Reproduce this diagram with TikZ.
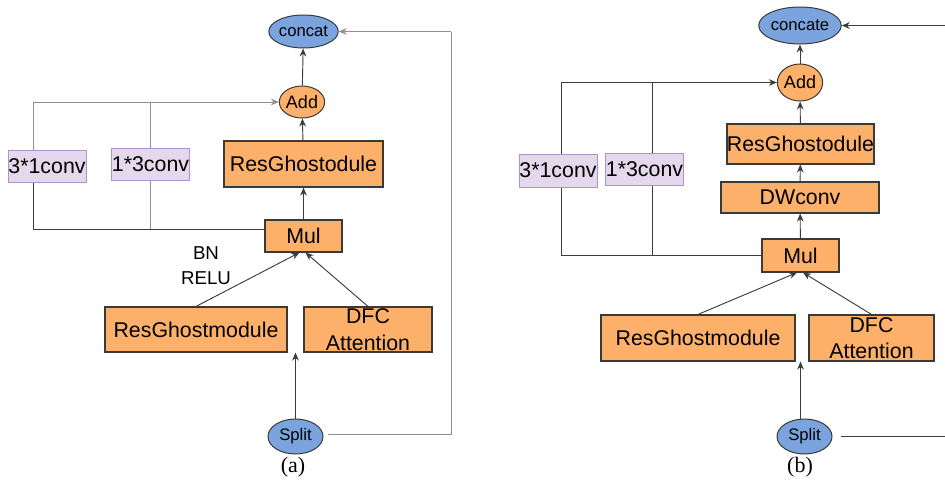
\documentclass[tikz,border=0pt]{standalone}
\usepackage{fontspec}
\setmainfont{Liberation Sans}
\newfontfamily\capfont{Liberation Serif}
\usetikzlibrary{shapes.geometric,arrows.meta,calc}
\definecolor{boxorange}{HTML}{FDB06A}
\definecolor{ellblue}{HTML}{7BA4DE}
\definecolor{lavfill}{HTML}{E4D8EC}
\definecolor{lavline}{HTML}{B093C9}
\definecolor{edgegrey}{HTML}{3A3A3A}
\definecolor{linegrey}{HTML}{3C3C3C}
\definecolor{lightline}{HTML}{8F8F8F}
\tikzset{
  wh/.style 2 args={minimum width=#1*0.75pt, minimum height=#2*0.75pt},
  obox/.style={draw=edgegrey, line width=0.85pt, fill=boxorange, inner sep=0pt,
    font=\fontsize{16}{20}\selectfont, align=center},
  lbox/.style={draw=lavline, line width=0.75pt, fill=lavfill, inner sep=0pt,
    font=\fontsize{16}{20}\selectfont},
  bell/.style={ellipse, draw=edgegrey, line width=0.75pt, fill=ellblue, inner sep=0pt,
    font=\fontsize{12.5}{14}\selectfont},
  oell/.style={ellipse, draw=edgegrey, line width=0.75pt, fill=boxorange, inner sep=0pt,
    font=\fontsize{13.5}{15}\selectfont},
  conn/.style={draw=linegrey, line width=0.7pt},
  arr/.style={conn, -{Stealth[length=6pt,width=5pt]}},
  caplab/.style={font=\capfont\fontsize{16.5}{19}\selectfont},
}
\begin{document}
\begin{tikzpicture}[x=0.75pt,y=-0.75pt]
\useasboundingbox (0,0) rectangle (945,479);
% ---------------- panel (a) ----------------
\node[bell, wh={55}{33}] (concatA) at (303.5,31.5) {concat};
\node[oell, wh={36}{32}] (addA) at (302,102) {Add};
\node[obox, wh={159}{46}] (resGA) at (303.5,164) {ResGhostodule};
\node[obox, wh={77}{32}] (mulA) at (303.5,236) {Mul};
\node[lbox, wh={78}{32}] (c31A) at (47,166) {3*1conv};
\node[lbox, wh={77}{32}] (c13A) at (150.5,164) {1*3conv};
\node[font=\fontsize{14}{18.75}\selectfont, align=center] (bnA) at (206,266) {BN\\RELU};
\node[obox, wh={182}{45}] (rgmA) at (196,329.5) {ResGhostmodule};
\node[obox, wh={128}{45}] (dfcA) at (368,329.5) {DFC\\Attention};
\node[bell, wh={55}{35}] (splitA) at (295.5,436.5) {Split};
\node[caplab] (labA) at (293,467) {(a)};
\coordinate (ra) at (451,31.5);

\draw[arr] (addA) -- (concatA);
\draw[arr] (resGA) -- (addA);
\draw[arr] (mulA) -- (resGA);
\draw[arr, draw=lightline] ($(c31A.north)+(-14,0)$) |- (addA.west);
\draw[conn, draw=lightline] (c13A.north) -- (c13A.north |- addA.west);
\draw[conn] ($(c31A.south)+(-14,0)$) |- ($(mulA.west)+(0,-7)$);
\draw[conn, draw=lightline] (c13A.south) -- (c13A.south |- {$(mulA.west)+(0,-7)$});
\draw[arr] (rgmA.north) -- ($(mulA.south)+(-4,0)$);
\draw[arr] (dfcA.north) -- ($(mulA.south)+(2,0)$);
\draw[arr] (splitA.north) -- (splitA.north |- rgmA.south);
\draw[conn, draw=lightline] ($(splitA.east)+(4,-2)$) -| (ra);
\draw[arr, draw=lightline] (ra) -- (concatA.east);

% ---------------- panel (b) ----------------
\node[bell, wh={56}{37}] (concatB) at (800,25.5) {concate};
\node[oell, wh={36}{37}] (addB) at (800,82.5) {Add};
\node[obox, wh={145}{40}] (resGB) at (800.5,144) {ResGhostodule};
\node[obox, wh={158}{31}] (dwB) at (800,197.5) {DWconv};
\node[obox, wh={77}{33}] (mulB) at (800.5,255.5) {Mul};
\node[lbox, wh={78}{33}] (c31B) at (558,170.5) {3*1conv};
\node[lbox, wh={77}{32}] (c13B) at (644.5,169) {1*3conv};
\node[obox, wh={194}{46}] (rgmB) at (698,338) {ResGhostmodule};
\node[obox, wh={125}{46}] (dfcB) at (871.5,338) {DFC\\Attention};
\node[bell, wh={55}{35}] (splitB) at (804.5,436.5) {Split};
\node[caplab] (labB) at (800,467) {(b)};
\coordinate (rt) at (945,25.5);
\coordinate (rb) at (945,436.5);

\draw[arr] (addB) -- (concatB);
\draw[arr] (resGB) -- (addB);
\draw[arr] (dwB) -- (resGB);
\draw[arr] (mulB) -- (dwB);
\draw[arr] ($(c31B.north)+(3,0)$) |- (addB.west);
\draw[conn] ($(c13B.north)+(7.5,0)$) -- ($(c13B.north |- addB.west)+(7.5,0)$);
\draw[conn] ($(c31B.south)+(3,0)$) |- (mulB.west);
\draw[conn] ($(c13B.south)+(7.5,0)$) -- ($(c13B.south |- mulB.west)+(7.5,0)$);
\draw[arr] (rgmB.north) -- ($(mulB.south)+(-3.5,0)$);
\draw[arr] (dfcB.north) -- ($(mulB.south)+(2.5,0)$);
\draw[arr] ($(splitB.north)+(-4,0)$) -- ($(splitB.north |- rgmB.south)+(-4,0)$);
\draw[conn] ($(splitB.east)+(8,0)$) -- (rb);
\draw[arr] (rt) -- (concatB.east);
\end{tikzpicture}
\end{document}
